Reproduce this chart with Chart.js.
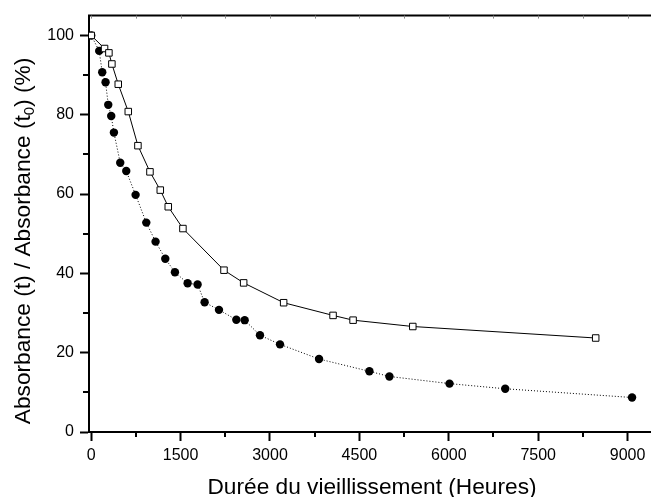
<!DOCTYPE html>
<html>
<head>
<meta charset="utf-8">
<script src="https://cdn.jsdelivr.net/npm/chart.js@4"></script>
<style>
  html, body { margin: 0; padding: 0; background: #fff; overflow: hidden; }
  #wrap { width: 651px; height: 497px; overflow: hidden; }
  #box { width: 665px; height: 497px; }
</style>
</head>
<body>
<div id="wrap"><div id="box"><canvas id="chart"></canvas></div></div>
<script>
// Durée (heures) et absorbance relative (%)
const hoursSquares = [0, 224, 297, 347, 454, 622, 784, 986, 1159, 1293, 1539, 2228, 2558, 3229, 4058, 4394, 5396, 8465];
const absSquares = [100, 96.7, 95.6, 92.8, 87.7, 80.8, 72.2, 65.6, 61.0, 56.8, 51.3, 40.8, 37.6, 32.6, 29.4, 28.2, 26.6, 23.7];

const hoursCircles = [0, 134, 185, 241, 286, 336, 381, 487, 588, 745, 924, 1080, 1243, 1405, 1618, 1785, 1903, 2144, 2435, 2575, 2832, 3168, 3823, 4668, 5004, 6012, 6947, 9075];
const absCircles = [100, 96.1, 90.7, 88.2, 82.5, 79.7, 75.5, 67.9, 65.8, 59.8, 52.8, 48.0, 43.7, 40.3, 37.5, 37.2, 32.7, 30.8, 28.3, 28.2, 24.4, 22.1, 18.4, 15.3, 14.0, 12.2, 10.9, 8.7];

// graduations
const xMajorTicks = [0, 1500, 3000, 4500, 6000, 7500, 9000];
const xMinorTicks = [750, 2250, 3750, 5250, 6750, 8250, 9750];
const yMajorTicks = [0, 20, 40, 60, 80, 100];
const yMinorTicks = [10, 30, 50, 70, 90];

const xTitle = 'Durée du vieillissement (Heures)';
const yTitleParts = ['Absorbance (t) / Absorbance (t', '0', ') (%)'];

const FONT = '"Liberation Sans", Arial, sans-serif';

const toPoints = (xs, ys) => xs.map((v, i) => ({ x: v, y: ys[i] }));

/* ticks secondaires, bord du haut et titres des axes (avec indice) */
const axisExtras = {
  id: 'axisExtras',
  afterDraw(chart) {
    const { ctx, chartArea: a, scales: { x, y } } = chart;
    ctx.save();
    ctx.strokeStyle = '#000';
    ctx.lineWidth = 2;
    ctx.beginPath();
    ctx.moveTo(a.left - 1, a.top);
    ctx.lineTo(a.right, a.top);
    ctx.stroke();

    ctx.beginPath();
    xMinorTicks.forEach(v => {
      const px = Math.round(x.getPixelForValue(v));
      ctx.moveTo(px, a.bottom);
      ctx.lineTo(px, a.bottom + 5);
    });
    yMinorTicks.forEach(v => {
      const py = Math.round(y.getPixelForValue(v));
      ctx.moveTo(a.left - 6, py);
      ctx.lineTo(a.left, py);
    });
    ctx.stroke();

    // petits ticks intérieurs sur le bord du haut
    ctx.lineWidth = 1;
    ctx.strokeStyle = '#888';
    ctx.beginPath();
    xMajorTicks.concat(xMinorTicks).forEach(v => {
      const px = Math.round(x.getPixelForValue(v)) + 0.5;
      ctx.moveTo(px, a.top);
      ctx.lineTo(px, a.top + 3);
    });
    ctx.stroke();

    ctx.fillStyle = '#000';
    ctx.font = '22.7px ' + FONT;
    ctx.textAlign = 'center';
    ctx.textBaseline = 'alphabetic';
    ctx.fillText(xTitle, (a.left + a.right) / 2, 494);

    // titre vertical avec indice
    const big = '22.7px ' + FONT, small = '15px ' + FONT;
    ctx.font = big;
    const w0 = ctx.measureText(yTitleParts[0]).width;
    const w2 = ctx.measureText(yTitleParts[2]).width;
    ctx.font = small;
    const w1 = ctx.measureText(yTitleParts[1]).width;
    const total = w0 + w1 + w2;
    ctx.translate(30, 241);
    ctx.rotate(-Math.PI / 2);
    ctx.textAlign = 'left';
    let cx = -total / 2;
    ctx.font = big;
    ctx.fillText(yTitleParts[0], cx, 0);
    cx += w0;
    ctx.font = small;
    ctx.fillText(yTitleParts[1], cx, 4);
    cx += w1;
    ctx.font = big;
    ctx.fillText(yTitleParts[2], cx, 0);
    ctx.restore();
  }
};

new Chart(document.getElementById('chart'), {
  type: 'line',
  data: {
    datasets: [{
      label: 'carrés',
      data: toPoints(hoursSquares, absSquares),
      borderColor: '#000',
      borderWidth: 1,
      pointStyle: 'rect',
      pointRadius: 4.6,
      pointBackgroundColor: '#fff',
      pointBorderColor: '#000',
      pointBorderWidth: 1,
      fill: false,
      tension: 0,
      order: 0
    }, {
      label: 'cercles',
      data: toPoints(hoursCircles, absCircles),
      borderColor: '#000',
      borderWidth: 1,
      borderDash: [1, 2],
      pointStyle: 'circle',
      pointRadius: 4.2,
      pointBackgroundColor: '#000',
      pointBorderColor: '#000',
      pointBorderWidth: 0,
      fill: false,
      tension: 0,
      order: 1
    }]
  },
  options: {
    responsive: true,
    maintainAspectRatio: false,
    animation: false,
    layout: { padding: { top: 15, right: 10, left: 0, bottom: 0 } },
    plugins: { legend: { display: false }, tooltip: { enabled: false } },
    scales: {
      x: {
        type: 'linear',
        min: -37,
        max: 9460,
        afterFit: s => { s.height = 65; },
        afterBuildTicks: s => { s.ticks = xMajorTicks.map(v => ({ value: v })); },
        border: { display: true, color: '#000', width: 2 },
        grid: { drawOnChartArea: false, drawTicks: true, tickLength: 9, tickColor: '#000', tickWidth: 2 },
        ticks: {
          maxRotation: 0,
          autoSkip: false,
          padding: 5,
          color: '#000',
          font: { family: FONT, size: 16 },
          callback: v => String(v)
        }
      },
      y: {
        min: 0,
        max: 105,
        afterFit: s => { s.width = 89; },
        afterBuildTicks: s => { s.ticks = yMajorTicks.map(v => ({ value: v })); },
        border: { display: true, color: '#000', width: 2 },
        grid: { drawOnChartArea: false, drawTicks: true, tickLength: 9, tickColor: '#000', tickWidth: 2 },
        ticks: {
          padding: 6,
          color: '#000',
          font: { family: FONT, size: 16 },
          callback: v => String(v)
        }
      }
    }
  },
  plugins: [axisExtras]
});
</script>
</body>
</html>
